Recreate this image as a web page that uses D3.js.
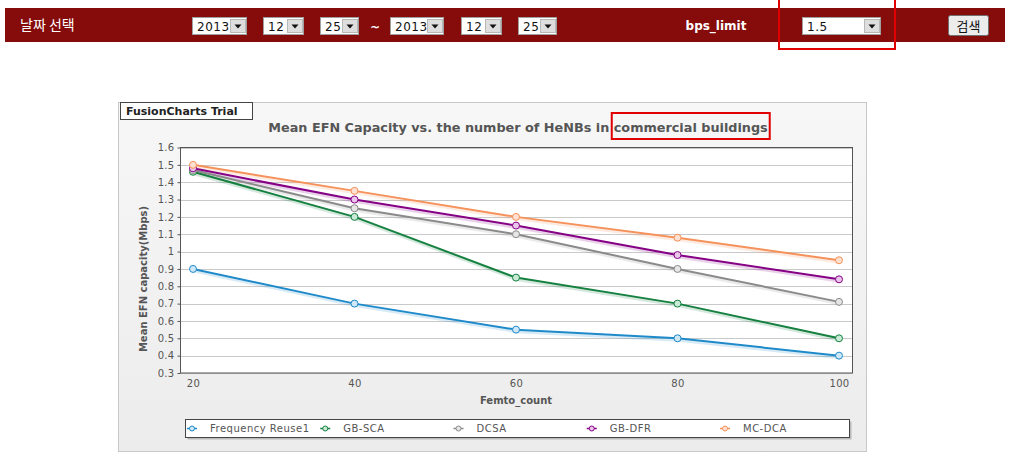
<!DOCTYPE html>
<html><head><meta charset="utf-8">
<script src="https://cdn.jsdelivr.net/npm/d3@7"></script>
<style>body{margin:0;background:#fff;}svg{display:block;}</style>
</head><body>
<svg id="c" width="1012" height="461"></svg>
<script>
const femtoCounts = [20, 40, 60, 80, 100];
const seriesNames = ["Frequency Reuse1", "GB-SCA", "DCSA", "GB-DFR", "MC-DCA"];
const freqReuse1 = [0.90, 0.70, 0.55, 0.50, 0.40];
const gbSca = [1.46, 1.20, 0.85, 0.70, 0.50];
const dcsa = [1.47, 1.25, 1.10, 0.90, 0.71];
const gbDfr = [1.48, 1.30, 1.15, 0.98, 0.84];
const mcDca = [1.50, 1.35, 1.20, 1.08, 0.95];
const yTicks = [0.3,0.4,0.5,0.6,0.7,0.8,0.9,1.0,1.1,1.2,1.3,1.4,1.5,1.6];
const seriesColors = ["#1f8ac9", "#158040", "#8a8a8a", "#850085", "#f5915a"];
const seriesFills = ["#cfe8f7", "#c9ead6", "#e6e6e6", "#e9c6ea", "#fde0cf"];
const titleText = "Mean EFN Capacity vs. the number of HeNBs in ";
const titleHighlight = "commercial buildings";
const yAxisTitle = "Mean EFN capacity(Mbps)";
const xAxisTitle = "Femto_count";

const seriesValues = [freqReuse1, gbSca, dcsa, gbDfr, mcDca];
const FONT = "Verdana, 'DejaVu Sans', sans-serif";
const svg = d3.select("#c");

// ---------- header bar ----------
svg.append("rect").attr("x",5).attr("y",8).attr("width",1000).attr("height",34).attr("fill","#860b0b");
svg.append("text").attr("x",20).attr("y",30).attr("fill","#fff")
  .attr("font-family","'Noto Sans CJK KR', sans-serif").attr("font-size",14).text("날짜 선택");

function selectBox(x, w, label){
  const g = svg.append("g");
  g.append("rect").attr("x",x+0.5).attr("y",17.5).attr("width",w).attr("height",17)
    .attr("fill","#fff").attr("stroke","#a0a0a0");
  g.append("text").attr("x",x+5).attr("y",30.5).attr("font-family",FONT).attr("font-size",12)
    .attr("fill","#111").attr("letter-spacing",0.5).text(label);
  const bx = x + w - 16;
  g.append("rect").attr("x",bx+0.5).attr("y",19.5).attr("width",15).attr("height",13)
    .attr("fill","#dedede").attr("stroke","#b8b8b8");
  g.append("path").attr("d",`M${bx+4.5},${24.5} L${bx+11.5},${24.5} L${bx+8},${28.5}Z`).attr("fill","#111");
}
selectBox(192, 54, "2013");
selectBox(263, 40, "12");
selectBox(320, 38, "25");
svg.append("text").attr("x",375).attr("y",31).attr("text-anchor","middle").attr("fill","#fff")
  .attr("font-family",FONT).attr("font-size",12).attr("font-weight","bold").text("~");
selectBox(390, 53, "2013");
selectBox(461, 40, "12");
selectBox(518, 38, "25");
svg.append("text").attr("x",716).attr("y",30).attr("text-anchor","middle").attr("fill","#fff")
  .attr("font-family",FONT).attr("font-size",12).attr("font-weight","bold").text("bps_limit");
selectBox(802, 78, "1.5");
// search button
svg.append("rect").attr("x",948.5).attr("y",15.5).attr("width",40).attr("height",20).attr("rx",2)
  .attr("fill","#ececec").attr("stroke","#707070");
svg.append("text").attr("x",968.5).attr("y",30.5).attr("text-anchor","middle").attr("fill","#111")
  .attr("font-family","'Noto Sans CJK KR', sans-serif").attr("font-size",13).text("검색");
// red highlight box
svg.append("rect").attr("x",779).attr("y",-2).attr("width",116).attr("height",51)
  .attr("fill","none").attr("stroke","#e00000").attr("stroke-width",2);

// ---------- chart frame ----------
const defs = svg.append("defs");
const bg = defs.append("linearGradient").attr("id","bg").attr("x1",0).attr("y1",0).attr("x2",0).attr("y2",1);
bg.append("stop").attr("offset","0%").attr("stop-color","#f7f7f7");
bg.append("stop").attr("offset","100%").attr("stop-color","#ececec");
svg.append("rect").attr("x",118.5).attr("y",102.5).attr("width",748).attr("height",349)
  .attr("fill","url(#bg)").attr("stroke","#c8c8c8");
svg.append("rect").attr("x",120.5).attr("y",102.5).attr("width",132).attr("height",17)
  .attr("fill","#fff").attr("stroke","#444");
svg.append("text").attr("x",126).attr("y",115).attr("font-family",FONT).attr("font-size",11)
  .attr("font-weight","bold").attr("fill","#222").text("FusionCharts Trial");

// ---------- plot ----------
const plot = {left:180.5, right:852.5, top:147.5, bottom:373};
const x = d3.scaleLinear().domain([d3.min(femtoCounts), d3.max(femtoCounts)]).range([193, 839]);
const y = d3.scaleLinear().domain([d3.min(yTicks), d3.max(yTicks)]).range([plot.bottom, plot.top]);

svg.append("rect").attr("x",plot.left).attr("y",plot.top).attr("width",plot.right-plot.left)
  .attr("height",plot.bottom-plot.top).attr("fill","#fff");

// grid
svg.append("g").selectAll("line").data(yTicks).join("line")
  .attr("x1",plot.left).attr("x2",plot.right)
  .attr("y1",d=>Math.round(y(d))+0.5).attr("y2",d=>Math.round(y(d))+0.5)
  .attr("stroke","#c9c9c9").attr("stroke-width",1);

// y axis
const yAxis = d3.axisLeft(y).tickValues(yTicks).tickSize(3).tickPadding(3)
  .tickFormat(d => String(+d.toFixed(1)));
const yg = svg.append("g").attr("transform",`translate(${plot.left},0)`).call(yAxis);
yg.select(".domain").remove();
yg.selectAll("line").attr("stroke","#555");
yg.selectAll("text").attr("font-family",FONT).attr("font-size",10).attr("fill","#555").attr("letter-spacing",0.3);

// x axis
const xAxis = d3.axisBottom(x).tickValues(femtoCounts).tickSize(0).tickPadding(7);
const xg = svg.append("g").attr("transform",`translate(0,${plot.bottom})`).call(xAxis);
xg.select(".domain").remove();
xg.selectAll("text").attr("font-family",FONT).attr("font-size",10).attr("fill","#555").attr("letter-spacing",0.3);

// plot border
svg.append("rect").attr("x",plot.left).attr("y",plot.top).attr("width",plot.right-plot.left)
  .attr("height",plot.bottom-plot.top).attr("fill","none").attr("stroke","#555");

// lines
const line = d3.line().x((d,i)=>x(femtoCounts[i])).y(d=>y(d));
const sg = svg.append("g");
seriesValues.forEach((vals,k)=>{
  sg.append("path").attr("d",line(vals)).attr("fill","none").attr("stroke",seriesColors[k])
    .attr("stroke-opacity",0.18).attr("stroke-width",3).attr("transform","translate(1,2)");
});
seriesValues.forEach((vals,k)=>{
  sg.append("path").attr("d",line(vals)).attr("fill","none").attr("stroke",seriesColors[k])
    .attr("stroke-width",2);
  sg.selectAll(null).data(vals).join("circle")
    .attr("cx",(d,i)=>x(femtoCounts[i])).attr("cy",d=>y(d)).attr("r",3.5)
    .attr("fill",seriesFills[k]).attr("stroke",seriesColors[k]).attr("stroke-width",1);
});

// titles
const t = svg.append("text").attr("x",518).attr("y",132).attr("text-anchor","middle")
  .attr("font-family",FONT).attr("font-size",12.8).attr("font-weight","bold").attr("fill","#555");
t.append("tspan").text(titleText);
t.append("tspan").text(titleHighlight);
{
  const n = t.node();
  const start = n.getStartPositionOfChar(titleText.length);
  const end = n.getEndPositionOfChar(titleText.length + titleHighlight.length - 1);
  svg.append("rect").attr("x",start.x-2).attr("y",113).attr("width",end.x-start.x+4).attr("height",26)
    .attr("fill","none").attr("stroke","#e00000").attr("stroke-width",2);
}
svg.append("text").attr("transform","translate(147,279) rotate(-90)").attr("text-anchor","middle")
  .attr("font-family",FONT).attr("font-size",10).attr("font-weight","bold").attr("fill","#555").text(yAxisTitle);
svg.append("text").attr("x",516).attr("y",404).attr("text-anchor","middle")
  .attr("font-family",FONT).attr("font-size",10).attr("font-weight","bold").attr("fill","#555").text(xAxisTitle);

// legend
const lg = svg.append("g");
lg.append("rect").attr("x",187.5).attr("y",421.5).attr("width",664).attr("height",18).attr("fill","#999").attr("opacity",0.6);
lg.append("rect").attr("x",185.5).attr("y",419.5).attr("width",664).attr("height",18).attr("fill","#fff").attr("stroke","#444");
const legX = d3.scalePoint().domain(seriesNames).range([192, 725]);
seriesNames.forEach((name,k)=>{
  const cx = legX(name);
  lg.append("line").attr("x1",cx-5).attr("x2",cx+5).attr("y1",428.5).attr("y2",428.5)
    .attr("stroke",seriesColors[k]).attr("stroke-width",1.5);
  lg.append("circle").attr("cx",cx).attr("cy",428.5).attr("r",2.5).attr("fill",seriesFills[k])
    .attr("stroke",seriesColors[k]);
  lg.append("text").attr("x",cx+18).attr("y",432).attr("font-family",FONT).attr("font-size",10)
    .attr("fill","#555").attr("letter-spacing",0.5).text(name);
});
</script>
</body></html>
